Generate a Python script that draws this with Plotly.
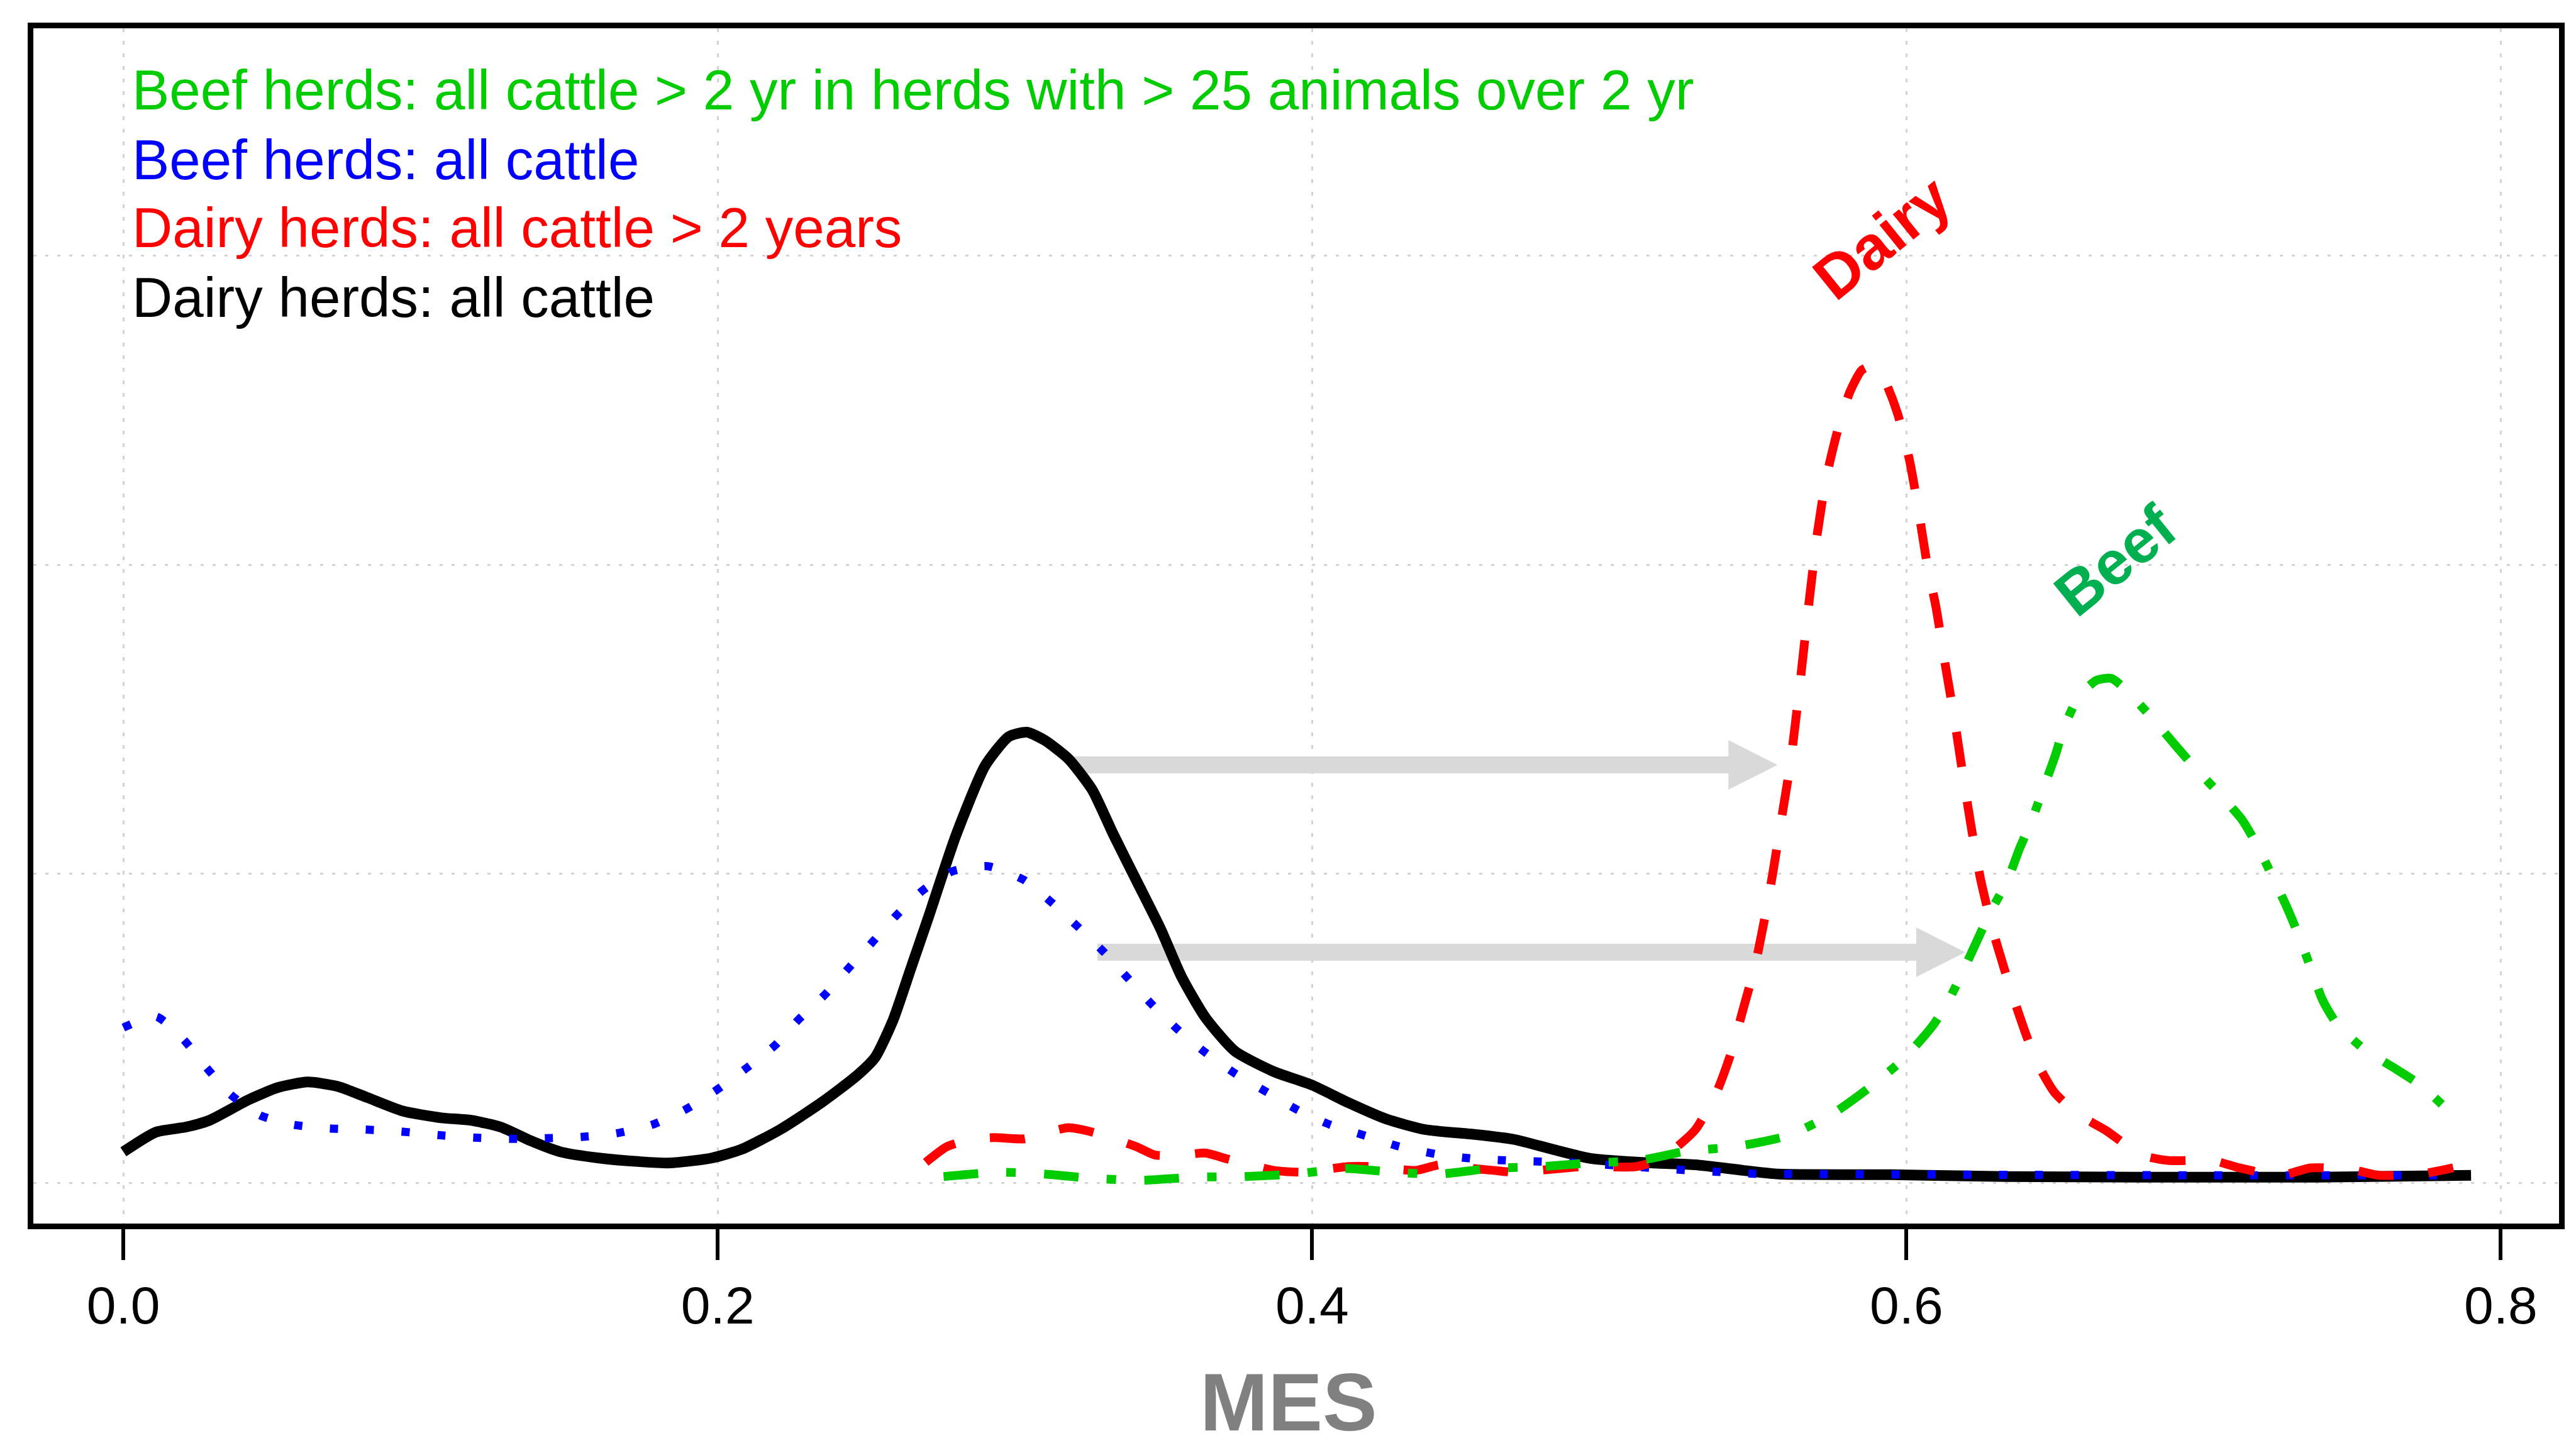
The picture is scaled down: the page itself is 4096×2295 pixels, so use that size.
import plotly.graph_objects as go

# ---------------- data ----------------
dairy_all_x = [0.000, 0.011, 0.021, 0.029, 0.042, 0.052, 0.062, 0.072, 0.082, 0.094, 0.107, 0.117, 0.127, 0.137,
               0.147, 0.160, 0.174, 0.184, 0.198, 0.208, 0.221, 0.235, 0.247, 0.253, 0.259, 0.265, 0.271, 0.280,
               0.290, 0.298, 0.304, 0.310, 0.318, 0.326, 0.333, 0.341, 0.349, 0.356, 0.364, 0.374, 0.387, 0.400,
               0.412, 0.425, 0.438, 0.455, 0.468, 0.481, 0.494, 0.514, 0.529, 0.545, 0.557, 0.595, 0.633, 0.678,
               0.738, 0.790]
dairy_all_y = [0.50, 0.82, 0.90, 1.01, 1.34, 1.54, 1.63, 1.56, 1.38, 1.16, 1.05, 1.01, 0.90, 0.68,
               0.50, 0.40, 0.34, 0.32, 0.40, 0.54, 0.86, 1.30, 1.74, 2.03, 2.63, 3.47, 4.31, 5.60,
               6.75, 7.22, 7.29, 7.16, 6.86, 6.36, 5.65, 4.88, 4.11, 3.34, 2.68, 2.13, 1.80, 1.58,
               1.30, 1.03, 0.86, 0.78, 0.70, 0.54, 0.39, 0.32, 0.29, 0.20, 0.14, 0.13, 0.10, 0.09,
               0.09, 0.12]

beef_all_x = [0.000, 0.011, 0.020, 0.028, 0.036, 0.046, 0.057, 0.069, 0.081, 0.093, 0.106, 0.118, 0.130, 0.142,
              0.154, 0.166, 0.178, 0.189, 0.199, 0.209, 0.219, 0.227, 0.236, 0.244, 0.252, 0.260, 0.269, 0.279,
              0.291, 0.303, 0.312, 0.321, 0.330, 0.338, 0.346, 0.355, 0.364, 0.374, 0.385, 0.395, 0.406, 0.418,
              0.429, 0.442, 0.454, 0.466, 0.478, 0.490, 0.502, 0.514, 0.527, 0.539, 0.551, 0.563, 0.618, 0.698,
              0.782]
beef_all_y = [2.51, 2.69, 2.33, 1.86, 1.43, 1.09, 0.94, 0.88, 0.86, 0.83, 0.77, 0.73, 0.71, 0.72,
              0.74, 0.80, 0.94, 1.18, 1.48, 1.83, 2.21, 2.63, 3.04, 3.47, 3.89, 4.32, 4.73, 5.04,
              5.12, 4.90, 4.55, 4.15, 3.73, 3.31, 2.89, 2.47, 2.11, 1.77, 1.46, 1.18, 0.94, 0.76,
              0.59, 0.46, 0.39, 0.36, 0.34, 0.32, 0.28, 0.24, 0.20, 0.17, 0.14, 0.14, 0.13, 0.12,
              0.12]

dairy_old_x = [0.270, 0.277, 0.285, 0.293, 0.303, 0.310, 0.318, 0.326, 0.334, 0.341, 0.347, 0.355, 0.364, 0.371,
               0.380, 0.387, 0.397, 0.405, 0.412, 0.420, 0.435, 0.443, 0.452, 0.461, 0.468, 0.483, 0.491, 0.509,
               0.516, 0.522, 0.529, 0.536, 0.541, 0.545, 0.549, 0.552, 0.555, 0.558, 0.561, 0.564, 0.567, 0.570,
               0.573, 0.577, 0.581, 0.585, 0.589, 0.593, 0.597, 0.601, 0.604, 0.607, 0.610, 0.613, 0.616, 0.619,
               0.622, 0.625, 0.629, 0.633, 0.637, 0.641, 0.645, 0.650, 0.658, 0.667, 0.679, 0.688, 0.703, 0.712,
               0.726, 0.736, 0.750, 0.759, 0.773, 0.784]
dairy_old_y = [0.33, 0.58, 0.70, 0.73, 0.71, 0.80, 0.89, 0.82, 0.70, 0.58, 0.45, 0.44, 0.48, 0.39,
               0.28, 0.20, 0.17, 0.22, 0.26, 0.26, 0.20, 0.29, 0.24, 0.20, 0.17, 0.23, 0.26, 0.26,
               0.36, 0.55, 0.86, 1.45, 2.10, 2.80, 3.50, 4.20, 5.00, 5.90, 6.80, 8.00, 9.30, 10.50,
               11.40, 12.20, 12.80, 13.15, 13.22, 12.95, 12.45, 11.70, 10.90, 10.00, 9.30, 8.40, 7.55, 6.60,
               5.70, 4.90, 4.10, 3.45, 2.85, 2.30, 1.85, 1.45, 1.10, 0.85, 0.45, 0.36, 0.36, 0.24,
               0.12, 0.24, 0.21, 0.12, 0.14, 0.24]

beef_old_x = [0.276, 0.295, 0.310, 0.326, 0.343, 0.361, 0.377, 0.394, 0.412, 0.427, 0.443, 0.460, 0.477, 0.494,
              0.510, 0.526, 0.542, 0.560, 0.575, 0.587, 0.599, 0.609, 0.614, 0.619, 0.624, 0.628, 0.634, 0.638,
              0.642, 0.646, 0.650, 0.653, 0.658, 0.664, 0.669, 0.674, 0.683, 0.691, 0.697, 0.705, 0.713, 0.718,
              0.723, 0.728, 0.732, 0.736, 0.740, 0.745, 0.754, 0.764, 0.773, 0.781]
beef_old_y = [0.10, 0.17, 0.14, 0.07, 0.04, 0.09, 0.10, 0.14, 0.23, 0.17, 0.14, 0.23, 0.26, 0.32,
              0.36, 0.51, 0.58, 0.76, 1.11, 1.52, 2.00, 2.55, 2.93, 3.42, 3.94, 4.36, 4.89, 5.40,
              5.84, 6.37, 6.90, 7.36, 7.87, 8.13, 8.16, 7.97, 7.50, 7.05, 6.72, 6.31, 5.87, 5.46,
              4.97, 4.46, 4.00, 3.48, 2.96, 2.56, 2.16, 1.86, 1.58, 1.23]

x_tick_vals = [0.0, 0.2, 0.4, 0.6, 0.8]
x_tick_text = ["0.0", "0.2", "0.4", "0.6", "0.8"]
y_grid_vals = [0, 5, 10, 15]

legend_texts = ["Beef herds: all cattle > 2 yr in herds with > 25 animals over 2 yr",
                "Beef herds: all cattle",
                "Dairy herds: all cattle > 2 years",
                "Dairy herds: all cattle"]
legend_colors = ["#00CC00", "#0000FF", "#FF0000", "#000000"]

# arrows: (tail x, tip x, y)
arrows = [(0.3194, 0.5566, 6.76), (0.3278, 0.6198, 3.73)]

# ---------------- layout geometry ----------------
W, H = 4096, 2295
ML, MR, MT, MB = 45, 35, 37, 357
XR = [-0.0303, 0.8196]
YR = [-0.661, 18.68]
plot_w = W - ML - MR
plot_h = H - MT - MB
FONT = "Liberation Sans, Arial, sans-serif"

fig = go.Figure()

fig.add_trace(go.Scatter(x=dairy_all_x, y=dairy_all_y, mode="lines",
                         line=dict(color="#000000", width=17, shape="spline", smoothing=0.6)))
fig.add_trace(go.Scatter(x=beef_all_x, y=beef_all_y, mode="lines",
                         line=dict(color="#0000FF", width=13, dash="13px,44px", shape="spline", smoothing=0.6)))
fig.add_trace(go.Scatter(x=dairy_old_x, y=dairy_old_y, mode="lines",
                         line=dict(color="#FF0000", width=14, dash="56px,56px", shape="spline", smoothing=0.6)))
fig.add_trace(go.Scatter(x=beef_old_x, y=beef_old_y, mode="lines",
                         line=dict(color="#00CC00", width=14, dash="55px,45px,15px,45px", shape="spline",
                                   smoothing=0.6)))

# arrows as shapes between grid and traces
head_len_px = 78
head_half_px = 39.5
data_per_px = (XR[1] - XR[0]) / plot_w
shapes = []
for tail, tip, yv in arrows:
    shapes.append(dict(type="line", xref="x", yref="y", x0=tail, x1=tip - head_len_px * data_per_px + 0.0005,
                       y0=yv, y1=yv, line=dict(color="#D9D9D9", width=27), layer="between"))
    shapes.append(dict(type="path", xref="x", yref="y", xsizemode="pixel", ysizemode="pixel",
                       xanchor=tip, yanchor=yv,
                       path=f"M {-head_len_px},{-head_half_px} L 0,0 L {-head_len_px},{head_half_px} Z",
                       fillcolor="#D9D9D9", line=dict(width=0), layer="between"))

annotations = []
legend_y = [17.68, 16.55, 15.45, 14.33]
for txt, col, yv in zip(legend_texts, legend_colors, legend_y):
    annotations.append(dict(x=0.0025, y=yv, xref="x", yref="y", text=txt, showarrow=False,
                            xanchor="left", yanchor="middle", font=dict(family=FONT, size=89, color=col)))

annotations.append(dict(x=0.5917, y=15.29, xref="x", yref="y", text="<b>Dairy</b>", showarrow=False,
                        textangle=-39, xanchor="center", yanchor="middle",
                        font=dict(family=FONT, size=98, color="#FF0000")))
annotations.append(dict(x=0.6703, y=10.07, xref="x", yref="y", text="<b>Beef</b>", showarrow=False,
                        textangle=-39, xanchor="center", yanchor="middle",
                        font=dict(family=FONT, size=98, color="#00B050")))
annotations.append(dict(x=(2041 - ML) / plot_w, y=(H - MB - 2222) / plot_h, xref="paper", yref="paper",
                        text="<b>MES</b>", showarrow=False, xanchor="center", yanchor="middle",
                        font=dict(family=FONT, size=130, color="#808080")))

fig.update_layout(
    width=W, height=H,
    margin=dict(l=ML, r=MR, t=MT, b=MB, pad=0),
    paper_bgcolor="white", plot_bgcolor="white",
    showlegend=False,
    shapes=shapes,
    annotations=annotations,
    font=dict(family=FONT, color="black"),
)
fig.update_xaxes(range=XR, tickvals=x_tick_vals, ticktext=x_tick_text, ticks="outside", ticklen=49,
                 tickwidth=6, tickcolor="black", showline=True, mirror=True, linewidth=9, linecolor="black",
                 showgrid=True, gridcolor="#D3D3D3", gridwidth=3, griddash="6px,14px", zeroline=False,
                 tickfont=dict(family=FONT, size=84, color="black"))
fig.update_yaxes(range=YR, tickvals=y_grid_vals, showticklabels=False, ticks="", showline=True, mirror=True,
                 linewidth=9, linecolor="black", showgrid=True, gridcolor="#D3D3D3", gridwidth=3,
                 griddash="5px,14px", zeroline=False)

fig.write_html("out.html")
